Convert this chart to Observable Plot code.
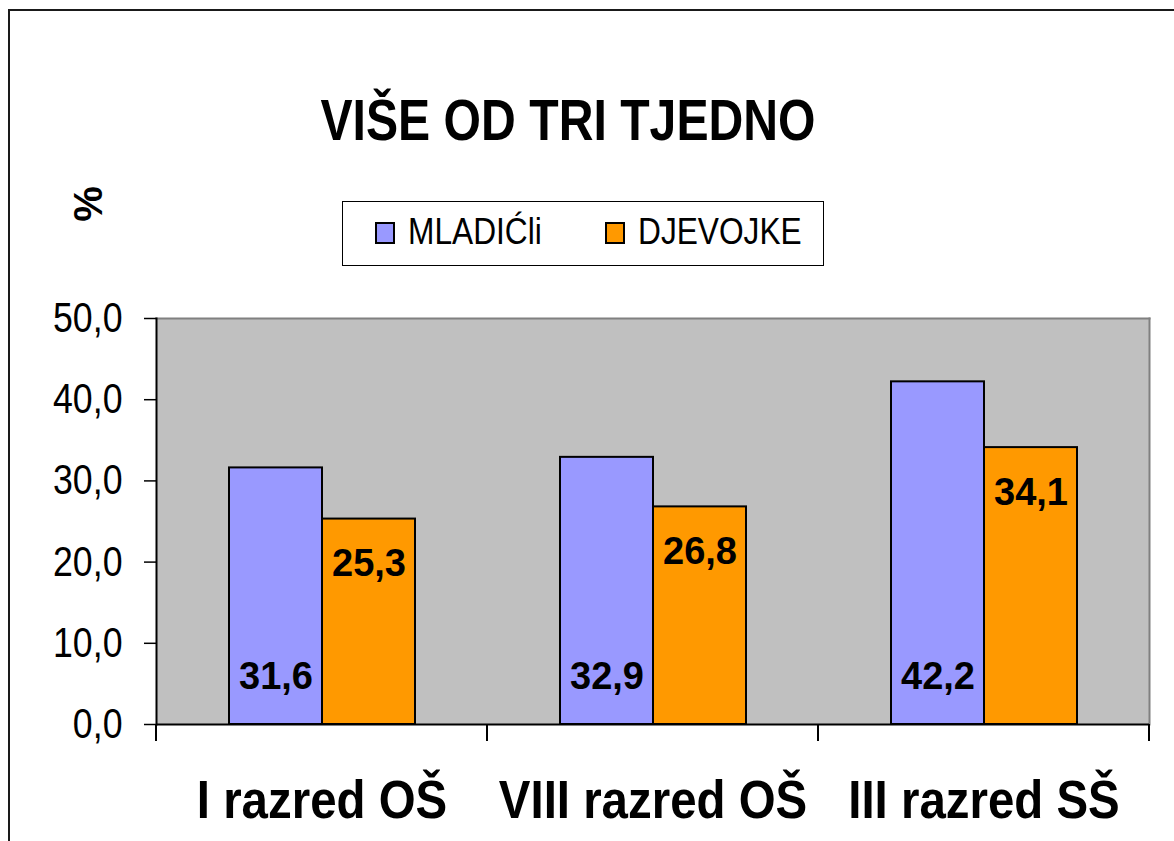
<!DOCTYPE html>
<html>
<head>
<meta charset="utf-8">
<script src="https://cdn.jsdelivr.net/npm/d3@7"></script>
<script src="https://cdn.jsdelivr.net/npm/@observablehq/plot@0.6"></script>
<style>
  html, body { margin: 0; padding: 0; background: #fff; overflow: hidden; width: 1174px; height: 841px; }
  body { position: relative; font-family: "Liberation Sans", Arial, sans-serif; color: #000; }
  #frame { position: absolute; left: 8px; top: 9px; width: 1300px; height: 1000px; border: 2px solid #1a1a1a; box-sizing: border-box; }
  #title { position: absolute; left: 0; top: 92px; width: 1136px; text-align: center; font-weight: bold; font-size: 57px; line-height: 57px; white-space: nowrap; transform: scaleX(0.845); }
  #pct { position: absolute; left: 88px; top: 204px; font-weight: bold; font-size: 40px; line-height: 40px; transform: translate(-50%, -50%) rotate(-90deg); }
  #legend { position: absolute; left: 342px; top: 201px; width: 482px; height: 65px; border: 1px solid #000; box-sizing: border-box; }
  .sw { position: absolute; top: 222px; width: 20px; height: 22px; border: 2px solid #000; box-sizing: border-box; }
  .lt { position: absolute; top: 214px; font-size: 36px; line-height: 36px; white-space: nowrap; transform: scaleX(0.88); transform-origin: 0 50%; }
  #chart { position: absolute; left: 0; top: 290px; }
</style>
</head>
<body>
<div id="frame"></div>
<div id="title"></div>
<div id="pct"></div>
<div id="legend"></div>
<div id="chart"></div>
<script>
const titleText = "VIŠE OD TRI TJEDNO";
const yAxisLabel = "%";
const categories = ["I razred OŠ", "VIII razred OŠ", "III razred SŠ"];
const series = ["MLADIĆli", "DJEVOJKE"];
const mladiciValues = [31.6, 32.9, 42.2];
const djevojkeValues = [25.3, 26.8, 34.1];
const yTicks = [0, 10, 20, 30, 40, 50];
const colors = ["#9999FF", "#FF9900"];

document.getElementById("title").textContent = titleText;
document.getElementById("pct").textContent = yAxisLabel;

// legend
const swLeft = [375, 605], txtLeft = [408, 638];
series.forEach((s, i) => {
  const sw = document.createElement("div");
  sw.className = "sw"; sw.style.left = swLeft[i] + "px"; sw.style.background = colors[i];
  document.body.appendChild(sw);
  const t = document.createElement("div");
  t.className = "lt"; t.style.left = txtLeft[i] + "px"; t.textContent = s;
  document.body.appendChild(t);
});

const table = categories.flatMap((c, i) => [
  {category: c, series: series[0], value: mladiciValues[i]},
  {category: c, series: series[1], value: djevojkeValues[i]}
]);
const fmt = v => v.toFixed(1).replace(".", ",");

const plot = Plot.plot({
  width: 1174, height: 551,
  marginLeft: 155, marginRight: 24, marginTop: 28, marginBottom: 117,
  style: {fontFamily: '"Liberation Sans", Arial, sans-serif', color: "#000", background: "transparent", overflow: "visible"},
  fx: {domain: categories, padding: 0, label: null},
  x: {domain: series, paddingInner: 0, paddingOuter: 0.77, axis: null},
  y: {domain: [0, 50], label: null},
  color: {domain: series, range: colors},
  marks: [
    Plot.frame({facet: "super", fill: "#C0C0C0", stroke: "none"}),
    Plot.barY(table, {fx: "category", x: "series", y: "value", fill: "series", stroke: "#000", strokeWidth: 2}),
    Plot.text(table.filter(d => d.series === series[0]), {fx: "category", x: "series", y: 0, text: d => fmt(d.value), dy: -48, fontSize: 38, fontWeight: "bold", fill: "#000"}),
    Plot.text(table.filter(d => d.series === series[1]), {fx: "category", x: "series", y: "value", text: d => fmt(d.value), dy: 45, fontSize: 38, fontWeight: "bold", fill: "#000"}),
    Plot.frame({facet: "super", anchor: "top", stroke: "#808080", strokeWidth: 2}),
    Plot.frame({facet: "super", anchor: "right", stroke: "#808080", strokeWidth: 2}),
    Plot.frame({facet: "super", anchor: "left", stroke: "#000", strokeWidth: 2}),
    Plot.ruleY([0], {stroke: "#000", strokeWidth: 2}),
    Plot.axisY({ticks: yTicks, tickFormat: fmt, tickSize: 12, tickPadding: 22, fontSize: 42, stroke: "#000", strokeWidth: 1.5}),
    Plot.axisFx({anchor: "bottom", tickSize: 0, tickPadding: 56, fontSize: 53, fontWeight: "bold", label: null})
  ]
});

// narrow the tick labels horizontally around their anchor points (the reference type is condensed)
function condense(selector, k) {
  d3.select(plot).selectAll(selector).each(function() {
    const t = this.getAttribute("transform") || "";
    const xa = this.getAttribute("x");
    let x = 0;
    if (xa !== null && !isNaN(+xa)) { x = +xa; this.removeAttribute("x"); }
    this.setAttribute("transform", `${t} translate(${x},0) scale(${k},1)`);
  });
}
condense('g[aria-label="fx-axis tick label"] text', 0.895);
condense('g[aria-label="y-axis tick label"] text', 0.85);

// category boundary ticks below the axis, positioned from the fx and y scales
const fxs = plot.scale("fx"), ys = plot.scale("y");
const y0 = ys.apply(0);
const edges = categories.map(c => fxs.apply(c)).concat([fxs.apply(categories[categories.length - 1]) + fxs.bandwidth]);
d3.select(plot).append("g").attr("stroke", "#000").attr("stroke-width", 2)
  .selectAll("line").data(edges).join("line")
  .attr("x1", d => d).attr("x2", d => d).attr("y1", y0).attr("y2", y0 + 17);

document.getElementById("chart").appendChild(plot);
</script>
</body>
</html>
